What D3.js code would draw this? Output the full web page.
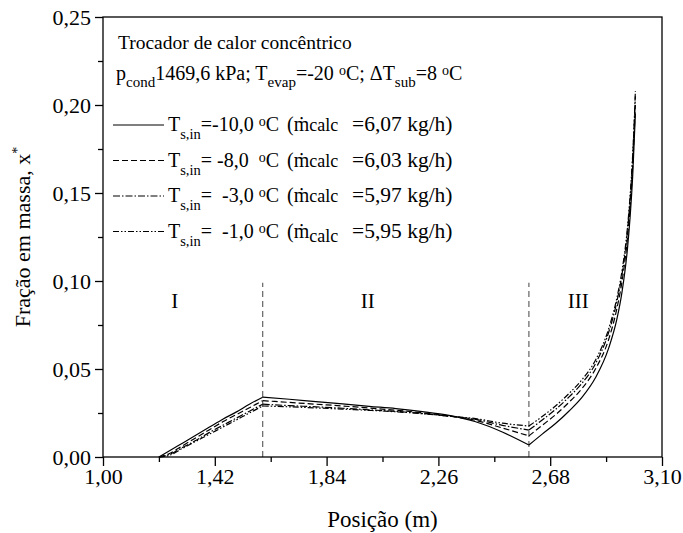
<!DOCTYPE html>
<html>
<head>
<meta charset="utf-8">
<script src="https://cdnjs.cloudflare.com/ajax/libs/d3/7.8.5/d3.min.js"></script>
<style>
	body { margin: 0; background: #fff; }
	svg { font-family: "Liberation Serif", "Times New Roman", serif; }
	.axis path, .axis line { stroke: #000; stroke-width: 1.3; }
	.axis text { font-family: "Liberation Serif", serif; font-size: 22px; fill: #000; }
	.curve { fill: none; stroke: #000; stroke-width: 1.2; }
</style>
</head>
<body>
<svg id="chart" width="683" height="533"></svg>
<script>
// position along the exchanger (m)
var positions = [1.21, 1.25, 1.30, 1.35, 1.40, 1.45, 1.50, 1.55, 1.60,
	1.70, 1.80, 1.90, 2.00, 2.10, 2.20, 2.30, 2.40, 2.50, 2.60,
	2.65, 2.70, 2.75, 2.80, 2.85, 2.90, 2.93, 2.95, 2.97, 2.98, 2.99, 3.00];
// mass fraction x* for each suction inlet temperature
var tMinus10 = [0, 0.0035, 0.008, 0.0125, 0.017, 0.0215, 0.0255, 0.030, 0.034,
	0.0328, 0.0315, 0.0302, 0.0288, 0.0275, 0.0258, 0.0236, 0.0200, 0.0142, 0.0068,
	0.013, 0.019, 0.026, 0.034, 0.045, 0.062, 0.078, 0.094, 0.118, 0.136, 0.160, 0.195];
var tMinus8 = [0, 0.002, 0.0065, 0.011, 0.0155, 0.020, 0.024, 0.028, 0.032,
	0.031, 0.030, 0.029, 0.0278, 0.0266, 0.0251, 0.0233, 0.0208, 0.0165, 0.012,
	0.018, 0.024, 0.031, 0.039, 0.050, 0.067, 0.084, 0.100, 0.124, 0.142, 0.166, 0.200];
var tMinus3 = [0, 0.0015, 0.0055, 0.0095, 0.014, 0.018, 0.022, 0.026, 0.030,
	0.0292, 0.0285, 0.0277, 0.0268, 0.0259, 0.0247, 0.0232, 0.0214, 0.018, 0.0153,
	0.021, 0.027, 0.034, 0.042, 0.053, 0.071, 0.088, 0.104, 0.128, 0.146, 0.170, 0.208];
var tMinus1 = [0, 0.001, 0.005, 0.009, 0.013, 0.017, 0.021, 0.025, 0.029,
	0.0285, 0.0279, 0.0272, 0.0265, 0.0257, 0.0246, 0.0232, 0.0218, 0.0192, 0.0176,
	0.023, 0.029, 0.036, 0.044, 0.055, 0.073, 0.090, 0.106, 0.130, 0.148, 0.172, 0.205];
var tempLabels = ["-10,0 ", " -8,0  ", "  -3,0 ", "  -1,0 "];
var flowLabels = ["6,07", "6,03", "5,97", "5,95"];
var xTicks = [1.00, 1.42, 1.84, 2.26, 2.68, 3.10];
var yTicks = [0, 0.05, 0.10, 0.15, 0.20, 0.25];
// region boundaries and names
var boundaries = [1.6, 2.6];
var regions = [{name: "I", x: 1.27}, {name: "II", x: 1.995}, {name: "III", x: 2.785}];

var dashes = [null, "6,3", "7,2,1.5,2", "6,2,1.5,2,1.5,2"];
var series = [tMinus10, tMinus8, tMinus3, tMinus1];

var svg = d3.select("#chart");
// plot box (window.top is read only, so no plain "top" here)
var pl = 103, pr = 662, pt = 17, pb = 457;
var x = d3.scaleLinear().domain([1.0, 3.1]).range([pl, pr]);
var y = d3.scaleLinear().domain([0, 0.25]).range([pb, pt]);
var fmt = function(d, n) { return d.toFixed(n).replace(".", ","); };

// boundary lines between regions go under everything else
svg.selectAll("line.bound").data(boundaries).enter().append("line").attr("class", "bound")
	.attr("x1", function(b) { return x(b); }).attr("x2", function(b) { return x(b); })
	.attr("y1", y(0)).attr("y2", y(0.099))
	.attr("stroke", "#555").attr("stroke-width", 1.1).attr("stroke-dasharray", "6,4");

svg.selectAll("text.region").data(regions).enter().append("text").attr("class", "region")
	.attr("x", function(r) { return x(r.x); }).attr("y", y(0.0845))
	.attr("text-anchor", "middle").attr("font-size", 21).text(function(r) { return r.name; });

// each curve is drawn in three pieces so the kinks at the boundaries stay sharp
var line = d3.line().x(function(d) { return x(d[0]); }).y(function(d) { return y(d[1]); }).curve(d3.curveMonotoneX);
var cuts = [0, positions.indexOf(1.60), positions.indexOf(2.60), positions.length - 1];
series.forEach(function(vals, i) {
	var pts = positions.map(function(p, j) { return [p, vals[j]]; });
	for (var k = 0; k < 3; k++) {
		svg.append("path").attr("class", "curve")
			.attr("d", line(pts.slice(cuts[k], cuts[k + 1] + 1)))
			.attr("stroke-dasharray", dashes[i]);
	}
});

// frame
svg.append("rect").attr("x", pl).attr("y", pt).attr("width", pr - pl).attr("height", pb - pt)
	.attr("fill", "none").attr("stroke", "#000").attr("stroke-width", 1.3);

// axes with major labelled ticks and minor ticks in between
var xMinor = xTicks.slice(0, -1).map(function(t) { return t + 0.21; });
var yMinor = yTicks.slice(0, -1).map(function(t) { return t + 0.025; });
svg.append("g").attr("class", "x axis").attr("transform", "translate(0," + pb + ")")
	.call(d3.axisBottom(x).tickValues(xTicks).tickSize(9).tickPadding(2).tickFormat(function(d) { return fmt(d, 2); }));
svg.append("g").attr("class", "x axis minor").attr("transform", "translate(0," + pb + ")")
	.call(d3.axisBottom(x).tickValues(xMinor).tickSize(5).tickFormat(""));
svg.append("g").attr("class", "y axis").attr("transform", "translate(" + pl + ",0)")
	.call(d3.axisLeft(y).tickValues(yTicks).tickSize(8).tickPadding(4).tickFormat(function(d) { return fmt(d, 2); }));
svg.append("g").attr("class", "y axis minor").attr("transform", "translate(" + pl + ",0)")
	.call(d3.axisLeft(y).tickValues(yMinor).tickSize(5).tickFormat(""));
svg.selectAll(".axis .domain").remove();

// axis titles
svg.append("text").attr("x", (pl + pr) / 2).attr("y", 527).attr("text-anchor", "middle")
	.attr("font-size", 23).text("Posição (m)");
var yt = svg.append("text").attr("transform", "translate(30," + ((pt + pb) / 2) + ") rotate(-90)")
	.attr("text-anchor", "middle").attr("font-size", 22);
yt.append("tspan").text("Fração em massa, x");
yt.append("tspan").attr("dy", -8).attr("font-size", 14).text("*");

// legend block
var leg = svg.append("g").attr("font-size", 20);
leg.append("text").attr("x", 118).attr("y", 49).attr("font-size", 19.5).text("Trocador de calor concêntrico");
var l2 = leg.append("text").attr("x", 116).attr("y", 80);
l2.append("tspan").text("p");
l2.append("tspan").attr("dy", 7).attr("font-size", 15).text("cond");
l2.append("tspan").attr("dy", -7).text("1469,6 kPa; T");
l2.append("tspan").attr("dy", 7).attr("font-size", 15).text("evap");
l2.append("tspan").attr("dy", -7).text("=-20 ");
l2.append("tspan").attr("dy", -5).attr("font-size", 14).text("o");
l2.append("tspan").attr("dy", 5).text("C; ΔT");
l2.append("tspan").attr("dy", 7).attr("font-size", 15).text("sub");
l2.append("tspan").attr("dy", -7).text("=8 ");
l2.append("tspan").attr("dy", -5).attr("font-size", 14).text("o");
l2.append("tspan").attr("dy", 5).text("C");

var rows = leg.selectAll("g.row").data(series).enter().append("g").attr("class", "row")
	.attr("transform", function(d, i) { return "translate(0," + (131 + i * 35.5) + ")"; });
rows.append("line").attr("x1", 113).attr("x2", 164).attr("y1", -6).attr("y2", -6)
	.attr("stroke", "#000").attr("stroke-width", 1.2)
	.attr("stroke-dasharray", function(d, i) { return dashes[i]; });
var rt = rows.append("text").attr("x", 168).attr("y", 0).attr("xml:space", "preserve");
rt.append("tspan").text("T");
rt.append("tspan").attr("dy", 8).attr("font-size", 14.5).text("s,in");
rt.append("tspan").attr("dy", -8).text(function(d, i) { return "=" + tempLabels[i]; });
rt.append("tspan").attr("dy", -5).attr("font-size", 14).text("o");
rt.append("tspan").attr("dy", 5).text("C");
rt.append("tspan").attr("x", 287).text("(ṁ");
rt.append("tspan").attr("font-size", 18).attr("dy", function(d, i) { return i == 3 ? 4 : 0; }).text("calc");
rt.append("tspan").attr("x", 352).attr("font-size", 21.5).attr("dy", function(d, i) { return i == 3 ? -4 : 0; })
	.text(function(d, i) { return "=" + flowLabels[i] + " kg/h)"; });
</script>
</body>
</html>
